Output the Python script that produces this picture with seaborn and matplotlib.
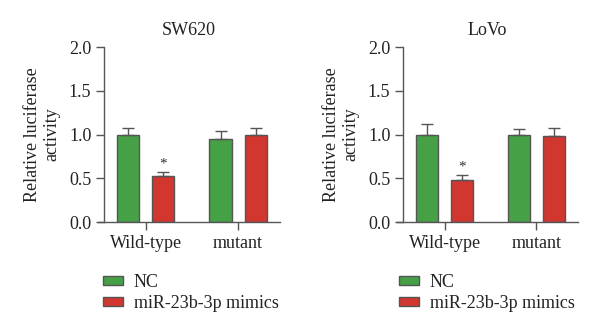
import matplotlib
matplotlib.use("Agg")
import matplotlib.pyplot as plt
import seaborn as sns
import pandas as pd

# Dual-luciferase reporter assay, relative activity (mean and upper SEM)
constructs = ["Wild-type", "mutant"]
groups = ["NC", "miR-23b-3p mimics"]

sw620_nc = [1.00, 0.95]
sw620_nc_err = [0.07, 0.09]
sw620_mim = [0.53, 0.99]
sw620_mim_err = [0.04, 0.09]

lovo_nc = [1.00, 1.00]
lovo_nc_err = [0.12, 0.06]
lovo_mim = [0.48, 0.98]
lovo_mim_err = [0.06, 0.10]

panels = [
    ("SW620", sw620_nc, sw620_nc_err, sw620_mim, sw620_mim_err),
    ("LoVo", lovo_nc, lovo_nc_err, lovo_mim, lovo_mim_err),
]

y_ticks = [0.0, 0.5, 1.0, 1.5, 2.0]
star_offset = 0.09

green = "#46a046"
red = "#d1362f"
edge = "#555555"
fs = 13

sns.set_theme(style="white")
plt.rcParams["font.family"] = ["Liberation Serif", "DejaVu Serif"]
plt.rcParams["text.color"] = "#222222"
plt.rcParams["axes.labelcolor"] = "#222222"
plt.rcParams["xtick.color"] = "#222222"
plt.rcParams["ytick.color"] = "#222222"

fig = plt.figure(figsize=(6.0, 3.33), dpi=100)
axes_boxes = [(0.1633, 0.3333, 0.3033, 0.5255), (0.6617, 0.3333, 0.3017, 0.5255)]
legend_x = [0.172, 0.665]

for (title, nc, nc_err, mim, mim_err), box, lx in zip(panels, axes_boxes, legend_x):
    ax = fig.add_axes(box)
    df = pd.DataFrame({
        "construct": constructs * 2,
        "group": [groups[0]] * 2 + [groups[1]] * 2,
        "value": nc + mim,
        "err": nc_err + mim_err,
    })
    sns.barplot(data=df, x="construct", y="value", hue="group",
                order=constructs, hue_order=groups,
                palette=[green, red], width=0.76, gap=0.37,
                edgecolor=edge, linewidth=1.0, errorbar=None,
                saturation=1, ax=ax)

    # upper error bars, centred on each bar
    for container, g in zip(ax.containers, groups):
        sub = df[df["group"] == g].set_index("construct").loc[constructs]
        xs = [p.get_x() + p.get_width() / 2 for p in container.patches]
        ax.errorbar(xs, sub["value"], yerr=[[0] * len(xs), sub["err"]],
                    fmt="none", ecolor=edge, elinewidth=1.0,
                    capsize=4.5, capthick=1.0, zorder=1)

    # significance marker over the wild-type mimic bar
    red_bar = ax.containers[1].patches[0]
    top = mim[0] + mim_err[0] + star_offset
    ax.text(red_bar.get_x() + red_bar.get_width() / 2, top, "*",
            ha="center", va="center", fontsize=11, color="#333333")

    ax.set_ylim(0, 2.0)
    ax.set_xlim(-0.52, 1.455)
    ax.set_yticks(y_ticks)
    ax.set_yticklabels([f"{t:.1f}" for t in y_ticks])
    ax.tick_params(axis="x", labelsize=fs, length=6, width=1.0,
                   color=edge, pad=3, bottom=True, direction="out")
    ax.tick_params(axis="y", labelsize=fs, length=6, width=1.0, color=edge,
                   pad=3, left=True, direction="out")
    ax.set_xlabel("")
    ax.set_ylabel("Relative luciferase\nactivity", fontsize=fs, labelpad=6,
                  linespacing=1.2)
    ax.set_title(title, fontsize=fs, pad=9)

    for s in ["top", "right"]:
        ax.spines[s].set_visible(False)
    ax.spines["left"].set_position(("data", -0.457))
    ax.spines["left"].set_bounds(0, 2.0)
    for s in ["left", "bottom"]:
        ax.spines[s].set_color(edge)
        ax.spines[s].set_linewidth(1.0)

    handles, labels = ax.get_legend_handles_labels()
    if ax.get_legend() is not None:
        ax.get_legend().remove()
    ax.legend(handles, labels, loc="upper left",
              bbox_to_anchor=(lx, 0.178), bbox_transform=fig.transFigure,
              frameon=False, fontsize=fs, handlelength=1.1,
              handleheight=0.4, handletextpad=0.6, labelspacing=0.25,
              borderaxespad=0, borderpad=0)

fig.savefig("out.png", dpi=100)
